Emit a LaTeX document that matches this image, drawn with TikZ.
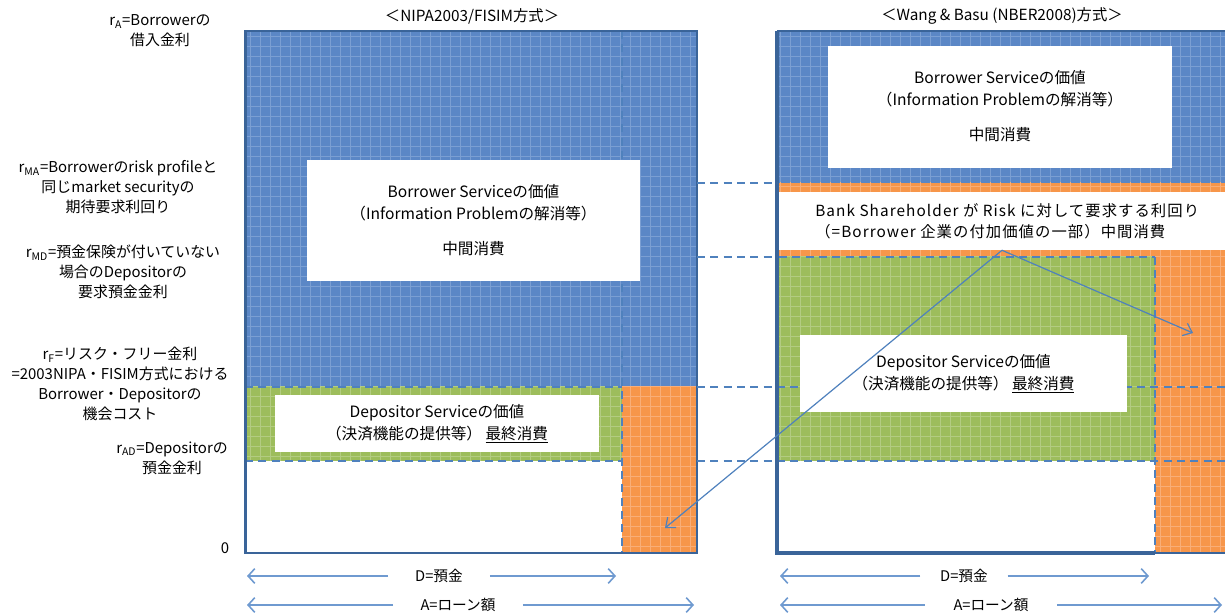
\documentclass[tikz,border=0pt]{standalone}
\usepackage{fontspec}
\setmainfont{Noto Sans CJK JP}
\newfontfamily\gothic[LetterSpace=7]{Noto Sans CJK JP}
\usetikzlibrary{patterns.meta,arrows.meta}
\definecolor{bluefill}{HTML}{5B87C6}
\definecolor{bluegrid}{HTML}{7B9FD3}
\definecolor{blueedge}{HTML}{3A6499}
\definecolor{greenfill}{HTML}{9DBD5C}
\definecolor{greengrid}{HTML}{B3CC82}
\definecolor{orangefill}{HTML}{F7964A}
\definecolor{orangegrid}{HTML}{F9AE78}
\definecolor{dashblue}{HTML}{4F81BD}
\definecolor{arrowblue}{HTML}{6F9AD0}

\tikzset{
	tile/.style 2 args={fill=#1,
		postaction={pattern={Lines[distance=7.5pt,angle=0,line width=.7pt]},pattern color=#2},
		postaction={pattern={Lines[distance=7.5pt,angle=90,line width=.7pt]},pattern color=#2}},
	dashline/.style={dashblue,line width=1.1pt,dash pattern=on 6pt off 4pt},
	lab/.style={align=center,font=\fontsize{11.2}{15}\selectfont,inner sep=0pt},
	boxtext/.style={align=center,font=\fontsize{11.7}{16.5}\selectfont,inner sep=0pt},
	dimtext/.style={font=\fontsize{11}{12}\selectfont,inner sep=0pt},
	dimarrow/.style={arrowblue,line width=1.2pt,-{Straight Barb[length=5pt,width=11pt]}},
	pointer/.style={dashblue,line width=.9pt,-{Straight Barb[length=6pt,width=10pt]}}
}

\begin{document}
\begin{tikzpicture}[x=0.75pt,y=-0.75pt]
	\useasboundingbox (0,0) rectangle (1225,616);

	% titles
	\node[lab,font=\fontsize{11.5}{15}\selectfont] (titleL) at (472,16) {＜NIPA2003/FISIM方式＞};
	\node[lab,font=\fontsize{11.5}{15}\selectfont] (titleR) at (1002,16) {＜Wang \& Basu (NBER2008)方式＞};

	% rates on the left
	\node[lab] (rA) at (160,31) {r\textsubscript{A}=Borrowerの\\借入金利};
	\node[lab] (rMA) at (118,187) {r\textsubscript{MA}=Borrowerのrisk profileと\\同じmarket securityの\\期待要求利回り};
	\node[lab] (rMD) at (123,272) {r\textsubscript{MD}=預金保険が付いていない\\場合のDepositorの\\要求預金金利};
	\node[lab] (rF) at (120,384) {r\textsubscript{F}=リスク・フリー金利\\=2003NIPA・FISIM方式における\\Borrower・Depositorの\\機会コスト};
	\node[lab] (rAD) at (172,458) {r\textsubscript{AD}=Depositorの\\預金金利};
	\node[lab] (zero) at (225,548) {0};

	% left panel
	\fill[tile={bluefill}{bluegrid}] (245,31) rectangle (697,387);
	\fill[tile={greenfill}{greengrid}] (245,387) rectangle (622,461);
	\fill[tile={orangefill}{orangegrid}] (622,387) rectangle (697,553);
	\fill[white] (245,461) rectangle (622,553);
	\draw[dashline] (622,31) -- (622,553);
	\draw[dashline] (245,387) -- (622,387);
	\draw[dashline] (245,461) -- (622,461);
	\node[fill=white,minimum width=250pt,minimum height=91pt] (borrowL) at (473.5,220.5) {};
	\node[boxtext] (borrowLtext) at (473.5,220) {Borrower Serviceの価値\\（Information Problemの解消等）\\[10pt]中間消費};
	\node[fill=white,minimum width=243pt,minimum height=43pt] (depoL) at (437,423.5) {};
	\node[boxtext] (depoLtext) at (437,424) {Depositor Serviceの価値\\（決済機能の提供等） \underline{最終消費}};
	\draw[blueedge,line width=1pt] (245,31) rectangle (697,553);
	\draw[blueedge,line width=2.2pt] (246,31) -- (246,553) -- (697,553);

	% right panel
	\fill[tile={bluefill}{bluegrid}] (777,31) rectangle (1225,183);
	\fill[tile={orangefill}{orangegrid}] (777,183) rectangle (1225,257);
	\fill[tile={greenfill}{greengrid}] (777,257) rectangle (1155,461);
	\fill[tile={orangefill}{orangegrid}] (1155,257) rectangle (1225,553);
	\fill[white] (777,461) rectangle (1155,553);
	\draw[dashline] (1155,257) -- (1155,553);
	\draw[dashline] (779,257) -- (1155,257);
	\draw[dashline] (697,387) -- (1225,387);
	\draw[dashline] (697,461) -- (1225,461);
	\node[fill=white,minimum width=258pt,minimum height=91.5pt] (borrowR) at (1000,107) {};
	\node[boxtext] (borrowRtext) at (1000,106) {Borrower Serviceの価値\\（Information Problemの解消等）\\[10pt]中間消費};
	\node[fill=white,minimum width=336pt,minimum height=43.5pt] (bank) at (1002,221) {};
	\node[align=left,font=\gothic\fontsize{11.5}{15.8}\selectfont,inner sep=0pt,anchor=west] (banktext) at (815,221) {Bank Shareholder が Risk に対して要求する利回り\\（=Borrower 企業の付加価値の一部）中間消費};
	\node[fill=white,minimum width=245pt,minimum height=58pt] (depoR) at (963.5,373.5) {};
	\node[boxtext] (depoRtext) at (963.5,374) {Depositor Serviceの価値\\（決済機能の提供等） \underline{最終消費}};
	\draw[blueedge,line width=1pt] (777,31) -- (1225,31);
	\draw[blueedge,line width=2.8pt] (777,31) -- (777,553) -- (1155,553);
	\draw[blueedge,line width=1pt] (1155,553) -- (1225,553);

	% links between the two panels
	\draw[dashline] (697,183) -- (777,183);
	\draw[dashline] (697,257) -- (777,257);

	% pointers from the shareholder box
	\coordinate (orangeL) at (665,528);
	\coordinate (orangeR) at (1193,333);
	\draw[pointer] (bank.south) -- (orangeL);
	\draw[pointer] (bank.south) -- (orangeR);

	% widths under the panels
	\node[dimtext,minimum width=76pt] (dL) at (439,576) {D=預金};
	\node[dimtext,minimum width=97pt] (aL) at (458,605) {A=ローン額};
	\node[dimtext,minimum width=65pt] (dR) at (964,576) {D=預金};
	\node[dimtext,minimum width=99pt] (aR) at (991,605) {A=ローン額};
	\coordinate (dLl) at (247,576);
	\coordinate (dLr) at (616,576);
	\coordinate (aLl) at (247,605);
	\coordinate (aLr) at (694,605);
	\coordinate (dRl) at (780,576);
	\coordinate (dRr) at (1149,576);
	\coordinate (aRl) at (780,605);
	\coordinate (aRr) at (1222,605);
	\draw[dimarrow] (dL.west) -- (dLl);
	\draw[dimarrow] (dL.east) -- (dLr);
	\draw[dimarrow] (aL.west) -- (aLl);
	\draw[dimarrow] (aL.east) -- (aLr);
	\draw[dimarrow] (dR.west) -- (dRl);
	\draw[dimarrow] (dR.east) -- (dRr);
	\draw[dimarrow] (aR.west) -- (aRl);
	\draw[dimarrow] (aR.east) -- (aRr);
\end{tikzpicture}
\end{document}
